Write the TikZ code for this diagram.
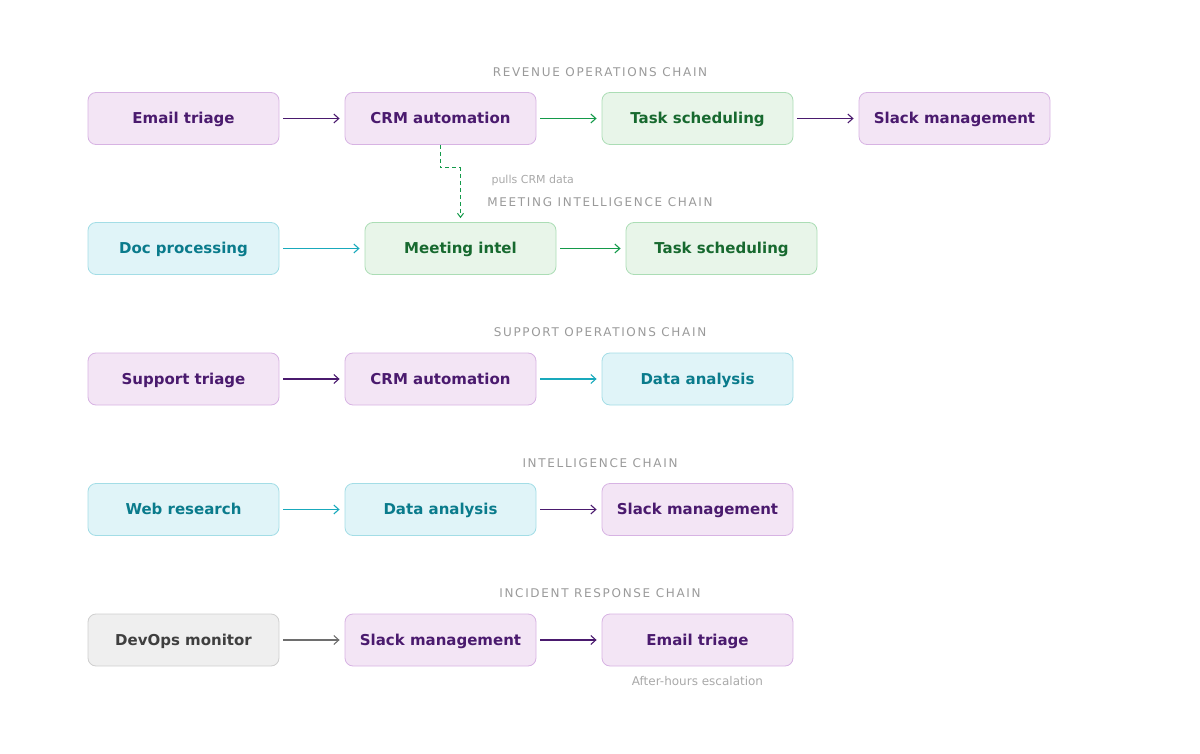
\documentclass[tikz,border=0pt]{standalone}
\usepackage{fontspec}
\setmainfont{DejaVu Sans}
\usetikzlibrary{arrows.meta}
\definecolor{pfill}{HTML}{F3E5F5}\definecolor{pdraw}{HTML}{D7B3E3}\definecolor{ptext}{HTML}{4A1A6E}
\definecolor{gfill}{HTML}{E8F5E9}\definecolor{gdraw}{HTML}{ABDDB5}\definecolor{gtext}{HTML}{17692F}
\definecolor{cfill}{HTML}{E0F4F8}\definecolor{cdraw}{HTML}{A3DDE6}\definecolor{ctext}{HTML}{0A7B8C}
\definecolor{kfill}{HTML}{EFEFEF}\definecolor{kdraw}{HTML}{CFCFCF}\definecolor{ktext}{HTML}{3F3F3F}
\definecolor{parrow}{HTML}{4A1A6E}\definecolor{garrow}{HTML}{149A4A}\definecolor{carrow}{HTML}{19A9BC}\definecolor{karrow}{HTML}{6E6E6E}
\definecolor{titlegray}{HTML}{9A9A9A}
\tikzset{
  x=1pt,y=-1pt,
  box/.style={rounded corners=8pt, minimum width=191pt, minimum height=52pt, line width=0.8pt, font=\fontsize{15}{18}\selectfont\bfseries, inner sep=0pt, text height=12pt, text depth=2pt},
  pbox/.style={box, fill=pfill, draw=pdraw, text=ptext},
  gbox/.style={box, fill=gfill, draw=gdraw, text=gtext},
  cbox/.style={box, fill=cfill, draw=cdraw, text=ctext},
  kbox/.style={box, fill=kfill, draw=kdraw, text=ktext},
  chaintitle/.style={text=titlegray, font=\fontsize{12}{14}\selectfont\addfontfeatures{LetterSpace=14}},
  note/.style={text=titlegray!85, font=\fontsize{11}{13}\selectfont},
  arr/.style={line width=1.1pt, -{Straight Barb[length=5pt,width=9pt]}, shorten <=4pt, shorten >=5pt},
}
\begin{document}
\begin{tikzpicture}
\useasboundingbox (0,0) rectangle (1200,754);
% Row 1
\node[chaintitle] (t1) at (600,72) {REVENUE OPERATIONS CHAIN};
\node[pbox] (a1) at (183.5,118.5) {Email triage};
\node[pbox] (a2) at (440.5,118.5) {CRM automation};
\node[gbox] (a3) at (697.5,118.5) {Task scheduling};
\node[pbox] (a4) at (954.5,118.5) {Slack management};
\draw[arr, parrow] (a1) -- (a2);
\draw[arr, garrow] (a2) -- (a3);
\draw[arr, parrow] (a3) -- (a4);
% Row 2
\node[chaintitle] (t2) at (600,202) {MEETING INTELLIGENCE CHAIN};
\node[cbox] (b1) at (183.5,248.5) {Doc processing};
\node[gbox] (b2) at (460.5,248.5) {Meeting intel};
\node[gbox] (b3) at (721.5,248.5) {Task scheduling};
\draw[arr, carrow] (b1) -- (b2);
\draw[arr, garrow] (b2) -- (b3);
\coordinate (d1) at (440.5,168);
\coordinate (d2) at (460.5,168);
\draw[garrow, line width=1pt, dash pattern=on 4pt off 3pt, -{Straight Barb[length=4pt,width=6pt]}, shorten >=4pt] (a2.south) -- (d1) -- (d2) -- (b2.north);
\node[note, anchor=west] (n1) at (488,180) {pulls CRM data};
% Row 3
\node[chaintitle] (t3) at (600,332) {SUPPORT OPERATIONS CHAIN};
\node[pbox] (c1) at (183.5,379) {Support triage};
\node[pbox] (c2) at (440.5,379) {CRM automation};
\node[cbox] (c3) at (697.5,379) {Data analysis};
\draw[arr, parrow] (c1) -- (c2);
\draw[arr, carrow] (c2) -- (c3);
% Row 4
\node[chaintitle] (t4) at (600,463) {INTELLIGENCE CHAIN};
\node[cbox] (e1) at (183.5,509.5) {Web research};
\node[cbox] (e2) at (440.5,509.5) {Data analysis};
\node[pbox] (e3) at (697.5,509.5) {Slack management};
\draw[arr, carrow] (e1) -- (e2);
\draw[arr, parrow] (e2) -- (e3);
% Row 5
\node[chaintitle] (t5) at (600,593) {INCIDENT RESPONSE CHAIN};
\node[kbox] (f1) at (183.5,640) {DevOps monitor};
\node[pbox] (f2) at (440.5,640) {Slack management};
\node[pbox] (f3) at (697.5,640) {Email triage};
\draw[arr, karrow] (f1) -- (f2);
\draw[arr, parrow] (f2) -- (f3);
\node[note, font=\fontsize{12}{14}\selectfont] (n2) at (697.5,681) {After-hours escalation};
\end{tikzpicture}
\end{document}
